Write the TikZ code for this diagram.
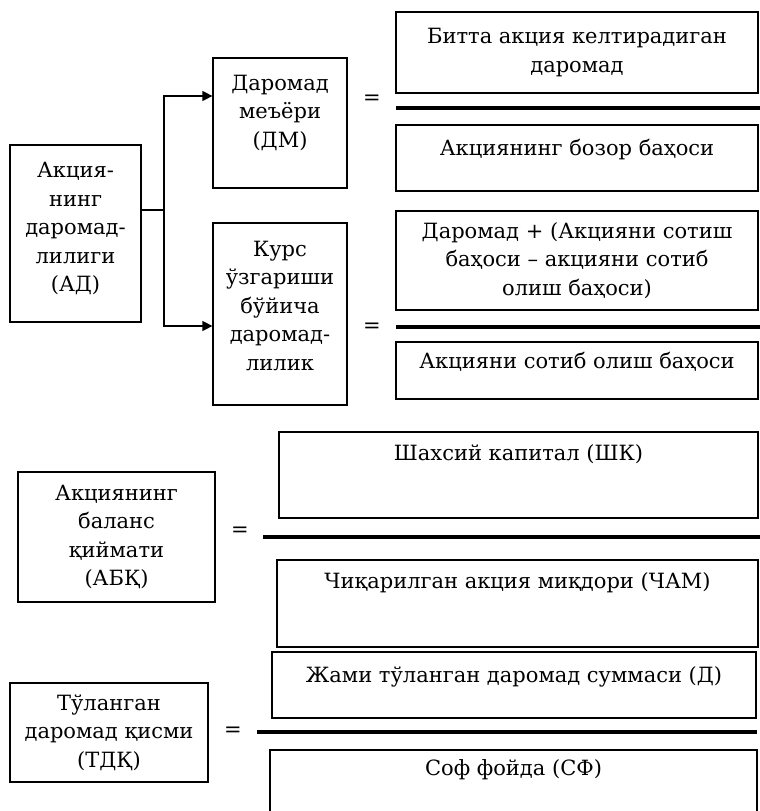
\documentclass[tikz,border=0pt]{standalone}
\usepackage{fontspec}
\setmainfont{DejaVu Serif}
\usetikzlibrary{arrows.meta, positioning}

\begin{document}
\begin{tikzpicture}[
  x=1pt, y=-1pt,
  box/.style={rectangle, draw=black, line width=1.2pt, align=center, inner sep=0pt,
    font=\fontsize{21}{28.5}\selectfont},
  conn/.style={-{Triangle[length=10pt, width=10pt]}, line width=1.2pt},
  bar/.style={line width=4pt},
  eq/.style={font=\fontsize{21}{24}\selectfont}
]
\path[use as bounding box, clip] (0,0) rectangle (760,811);

% left part, top
\node[box, minimum width=131pt, minimum height=177pt, text depth=13pt] (AD) at (75.5,233.5)
  {Акция-\\нинг\\даромад-\\лилиги\\(АД)};
\node[box, minimum width=134pt, minimum height=130pt, text depth=24pt] (DM) at (280,123)
  {Даромад\\меъёри\\(ДМ)};
\node[box, minimum width=134pt, minimum height=182pt, text depth=17pt] (KD) at (280,314)
  {Курс\\ўзгариши\\бўйича\\даромад-\\лилик};

\coordinate (split) at (164,210);
\draw[line width=1.2pt] ([yshift=23.5pt]AD.east) -- (split);
\draw[conn] (split) |- ([yshift=27pt]DM.west);
\draw[conn] (split) |- ([yshift=-12pt]KD.west);

\node[eq] (eq1) at (372,100) {=};
\node[eq] (eq2) at (372,328) {=};

% fractions, top
\node[box, minimum width=362pt, minimum height=81pt] (num1) at (577,52.5)
  {Битта акция келтирадиган\\даромад};
\draw[bar] (396,108) -- (760,108);
\node[box, minimum width=362pt, minimum height=66pt, text depth=21pt] (den1) at (577,158)
  {Акциянинг бозор баҳоси};

\node[box, minimum width=362pt, minimum height=99pt] (num2) at (577,260.5)
  {Даромад + (Акцияни сотиш\\баҳоси – акцияни сотиб\\олиш баҳоси)};
\draw[bar] (396,327) -- (760,327);
\node[box, minimum width=362pt, minimum height=57pt, text depth=20pt] (den2) at (577,370.5)
  {Акцияни сотиб олиш баҳоси};

% balance value
\node[box, minimum width=197pt, minimum height=130pt] (ABK) at (116.5,537)
  {Акциянинг\\баланс\\қиймати\\(АБҚ)};
\node[eq] (eq3) at (240,532) {=};
\node[box, minimum width=479pt, minimum height=86pt, text depth=45pt] (SK) at (518.5,475)
  {Шахсий капитал (ШК)};
\draw[bar] (263,537) -- (760,537);
\node[box, minimum width=481pt, minimum height=87pt, text depth=46pt] (CAM) at (517.5,603.5)
  {Чиқарилган акция миқдори (ЧАМ)};

% paid part
\node[box, minimum width=198pt, minimum height=99pt] (TDK) at (109,732.5)
  {Тўланган\\даромад қисми\\(ТДҚ)};
\node[eq] (eq4) at (233,732) {=};
\node[box, minimum width=484pt, minimum height=66pt, text depth=21pt] (D) at (514,685)
  {Жами тўланган даромад суммаси (Д)};
\draw[bar] (257,732) -- (757,732);
\node[box, minimum width=487pt, minimum height=80pt, text depth=45pt] (SF) at (513.5,790)
  {Соф фойда (СФ)};

\end{tikzpicture}
\end{document}
